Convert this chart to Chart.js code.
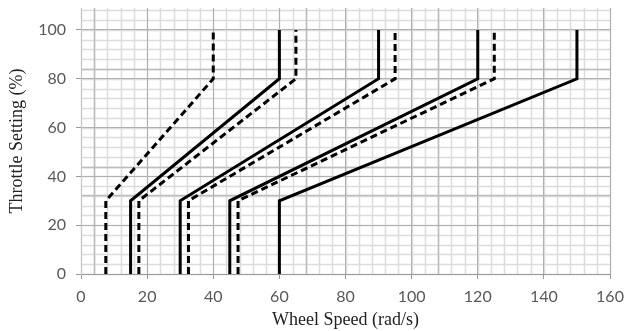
<!DOCTYPE html>
<html>
<head>
<meta charset="utf-8">
<script src="https://cdn.jsdelivr.net/npm/chart.js@4"></script>
<style>
  html, body { margin: 0; padding: 0; background: #fff; }
  #wrap { width: 637px; height: 331px; }
</style>
</head>
<body>
<div id="wrap"><canvas id="throttleChart" width="637" height="331"></canvas></div>
<script>
// throttle breakpoints shared by every curve
var throttle = [0, 30, 80, 100];

// wheel speed at each breakpoint, solid curves
var solid1 = [15, 15, 60, 60];
var solid2 = [30, 30, 90, 90];
var solid3 = [45, 45, 120, 120];
var solid4 = [60, 60, 150, 150];

// dashed curves
var dashed1 = [7.5, 7.5, 40, 40];
var dashed2 = [17.5, 17.5, 65, 65];
var dashed3 = [32.5, 32.5, 95, 95];
var dashed4 = [47.5, 47.5, 125, 125];

var xTicks = [0, 20, 40, 60, 80, 100, 120, 140, 160];
var yTicks = [0, 20, 40, 60, 80, 100];

function toPoints(speeds){
    var pts = [];
    for (let i = 0; i < speeds.length; i++){
        pts.push({x: speeds[i], y: throttle[i]});
    }
    return pts;
}

function makeSet(speeds, dashed){
    return {
        data: toPoints(speeds),
        showLine: true,
        borderColor: "#000",
        borderWidth: 3,
        borderDash: dashed ? [7, 4] : [],
        pointRadius: 0,
        fill: false,
        tension: 0
    };
}

// light graph-paper grid every 4 units, plus a few heavier stray lines
var paperGrid = {
    id: "paperGrid",
    beforeDraw: function(chart){
        var ctx = chart.ctx;
        var xs = chart.scales.x;
        var ys = chart.scales.y;
        var area = chart.chartArea;
        ctx.save();
        ctx.lineWidth = 1.5;
        ctx.strokeStyle = "#dcdcdc";
        for (let v = 0; v <= 160; v += 4){
            var px = Math.round(xs.getPixelForValue(v)) + 0.5;
            ctx.beginPath();
            ctx.moveTo(px, area.top);
            ctx.lineTo(px, area.bottom);
            ctx.stroke();
        }
        for (let v = 0; v <= 108; v += 4){
            var py = Math.round(ys.getPixelForValue(v)) + 0.5;
            ctx.beginPath();
            ctx.moveTo(area.left, py);
            ctx.lineTo(area.right, py);
            ctx.stroke();
        }
        ctx.strokeStyle = "#bdbdbd";
        [4, 68, 108].forEach(function(v){
            var px = Math.round(xs.getPixelForValue(v)) + 0.5;
            ctx.beginPath();
            ctx.moveTo(px, area.top);
            ctx.lineTo(px, area.bottom);
            ctx.stroke();
        });
        [32.4, 44, 84].forEach(function(v){
            var py = Math.round(ys.getPixelForValue(v)) + 0.5;
            ctx.beginPath();
            ctx.moveTo(area.left, py);
            ctx.lineTo(area.right, py);
            ctx.stroke();
        });
        ctx.restore();
    }
};

window.onload = init;
function init(){
    new Chart("throttleChart", {
        type: "scatter",
        data: {
            datasets: [
                makeSet(dashed1, true),
                makeSet(solid1, false),
                makeSet(dashed2, true),
                makeSet(solid2, false),
                makeSet(dashed3, true),
                makeSet(solid3, false),
                makeSet(dashed4, true),
                makeSet(solid4, false)
            ]
        },
        options: {
            responsive: false,
            animation: false,
            maintainAspectRatio: false,
            layout: {padding: {top: 8, right: 27, left: 0, bottom: 0}},
            plugins: {
                legend: {display: false},
                tooltip: {enabled: false}
            },
            scales: {
                x: {
                    type: "linear",
                    min: 0,
                    max: 160,
                    afterBuildTicks: function(scale){
                        scale.ticks = xTicks.map(function(v){ return {value: v}; });
                    },
                    afterFit: function(scale){
                        scale.height = 57;
                        scale.paddingLeft = 0;
                        scale.paddingRight = 0;
                    },
                    grid: {color: "#b0b0b0", lineWidth: 1, tickLength: 5, tickColor: "#9a9a9a"},
                    border: {color: "#9a9a9a"},
                    ticks: {
                        color: "#595959",
                        font: {family: "Lato", size: 16},
                        padding: 8,
                        maxRotation: 0
                    },
                    title: {
                        display: true,
                        text: "Wheel Speed (rad/s)",
                        color: "#222",
                        font: {family: "Liberation Serif", size: 18},
                        padding: {top: 0, bottom: 0}
                    }
                },
                y: {
                    type: "linear",
                    min: 0,
                    max: 109,
                    afterBuildTicks: function(scale){
                        scale.ticks = yTicks.map(function(v){ return {value: v}; });
                    },
                    afterFit: function(scale){
                        scale.width = 81;
                        scale.paddingTop = 0;
                        scale.paddingBottom = 0;
                    },
                    grid: {color: "#b0b0b0", lineWidth: 1, tickLength: 5, tickColor: "#9a9a9a"},
                    border: {color: "#c8c8c8"},
                    ticks: {
                        color: "#595959",
                        font: {family: "Lato", size: 16},
                        padding: 10
                    },
                    title: {
                        display: true,
                        text: "Throttle Setting (%)",
                        color: "#222",
                        font: {family: "Liberation Serif", size: 18},
                        padding: {top: 6, bottom: 0}
                    }
                }
            }
        },
        plugins: [paperGrid]
    });
}
</script>
</body>
</html>
